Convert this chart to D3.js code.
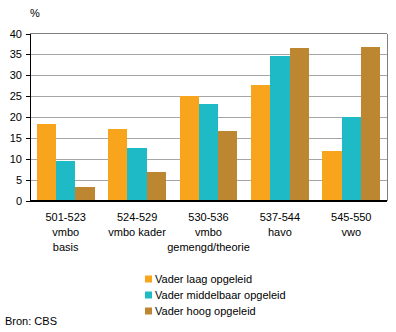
<!DOCTYPE html>
<html><head><meta charset="utf-8">
<script src="https://cdn.jsdelivr.net/npm/d3@7"></script>
<style>body{margin:0;background:#fff}svg{display:block;font-family:"Liberation Sans",Arial,sans-serif}</style>
</head><body><svg id="c" width="396" height="332"></svg>
<script>
const categories = [["501-523","vmbo","basis"],["524-529","vmbo kader"],["530-536","vmbo","gemengd/theorie"],["537-544","havo"],["545-550","vwo"]];
const seriesNames = ["Vader laag opgeleid","Vader middelbaar opgeleid","Vader hoog opgeleid"];
const laag = [18.4, 17.2, 25.0, 27.7, 11.9];
const middelbaar = [9.5, 12.6, 23.1, 34.6, 20.0];
const hoog = [3.3, 6.9, 16.7, 36.5, 36.7];
const yTicks = [0,5,10,15,20,25,30,35,40];
const colors = ["#f8a51d","#1ebbc6","#bd8630"];
const series = [laag, middelbaar, hoog];

const svg = d3.select("#c");
const L = 30, R = 387, T = 33.5, B = 201;
const x = d3.scaleBand().domain(d3.range(categories.length)).range([L, R]).paddingInner(0.19).paddingOuter(0.095);
const xi = d3.scaleBand().domain(d3.range(3)).range([0, x.bandwidth()]);
const y = d3.scaleLinear().domain([0, 40]).range([B, T]);

// gridlines
svg.append("g").selectAll("line").data(yTicks.filter(d => d > 0)).join("line")
  .attr("x1", L).attr("x2", R).attr("y1", d => y(d)).attr("y2", d => y(d))
  .attr("stroke", "#a6a6a6").attr("stroke-width", 1).attr("shape-rendering","crispEdges");
// right border
svg.append("line").attr("x1", R).attr("x2", R).attr("y1", T).attr("y2", B)
  .attr("stroke", "#808080").attr("shape-rendering","crispEdges");
svg.append("line").attr("x1", L).attr("x2", R).attr("y1", T).attr("y2", T)
  .attr("stroke", "#808080").attr("shape-rendering","crispEdges");

// bars
series.forEach((s, si) => {
  svg.append("g").selectAll("rect").data(s).join("rect")
    .attr("x", (d, i) => x(i) + xi(si)).attr("width", xi.bandwidth())
    .attr("y", d => y(d)).attr("height", d => B - y(d))
    .attr("fill", colors[si]).attr("shape-rendering","crispEdges");
});

// y axis
const ya = svg.append("g").attr("transform", `translate(${L},0)`)
  .call(d3.axisLeft(y).tickValues(yTicks).tickSize(4).tickPadding(4));
ya.select(".domain").remove();
ya.selectAll("line").attr("stroke", "#000").attr("shape-rendering","crispEdges");
ya.selectAll("text").attr("font-size", 11).attr("fill", "#000").attr("font-family", "Liberation Sans, Arial, sans-serif");
svg.append("line").attr("x1", L).attr("x2", L).attr("y1", T).attr("y2", B + 1)
  .attr("stroke", "#000").attr("shape-rendering","crispEdges");
svg.append("line").attr("x1", L).attr("x2", R).attr("y1", B).attr("y2", B)
  .attr("stroke", "#000").attr("stroke-width", 1.5).attr("shape-rendering","crispEdges");

svg.append("text").attr("x", 30).attr("y", 17).attr("font-size", 11).text("%");

// x labels
categories.forEach((lines, i) => {
  const t = svg.append("text").attr("text-anchor", "middle").attr("font-size", 11)
    .attr("x", x(i) + x.bandwidth() / 2).attr("y", 221);
  lines.forEach((l, j) => t.append("tspan").attr("x", x(i) + x.bandwidth() / 2).attr("dy", j ? 15 : 0).text(l));
});

// legend
seriesNames.forEach((n, i) => {
  const yy = 279 + i * 16;
  svg.append("rect").attr("x", 145).attr("y", yy - 3.5).attr("width", 7).attr("height", 7).attr("fill", colors[i]);
  svg.append("text").attr("x", 155).attr("y", yy + 4).attr("font-size", 11).text(n);
});
svg.append("text").attr("x", 5).attr("y", 325).attr("font-size", 11).text("Bron: CBS");
</script></body></html>
